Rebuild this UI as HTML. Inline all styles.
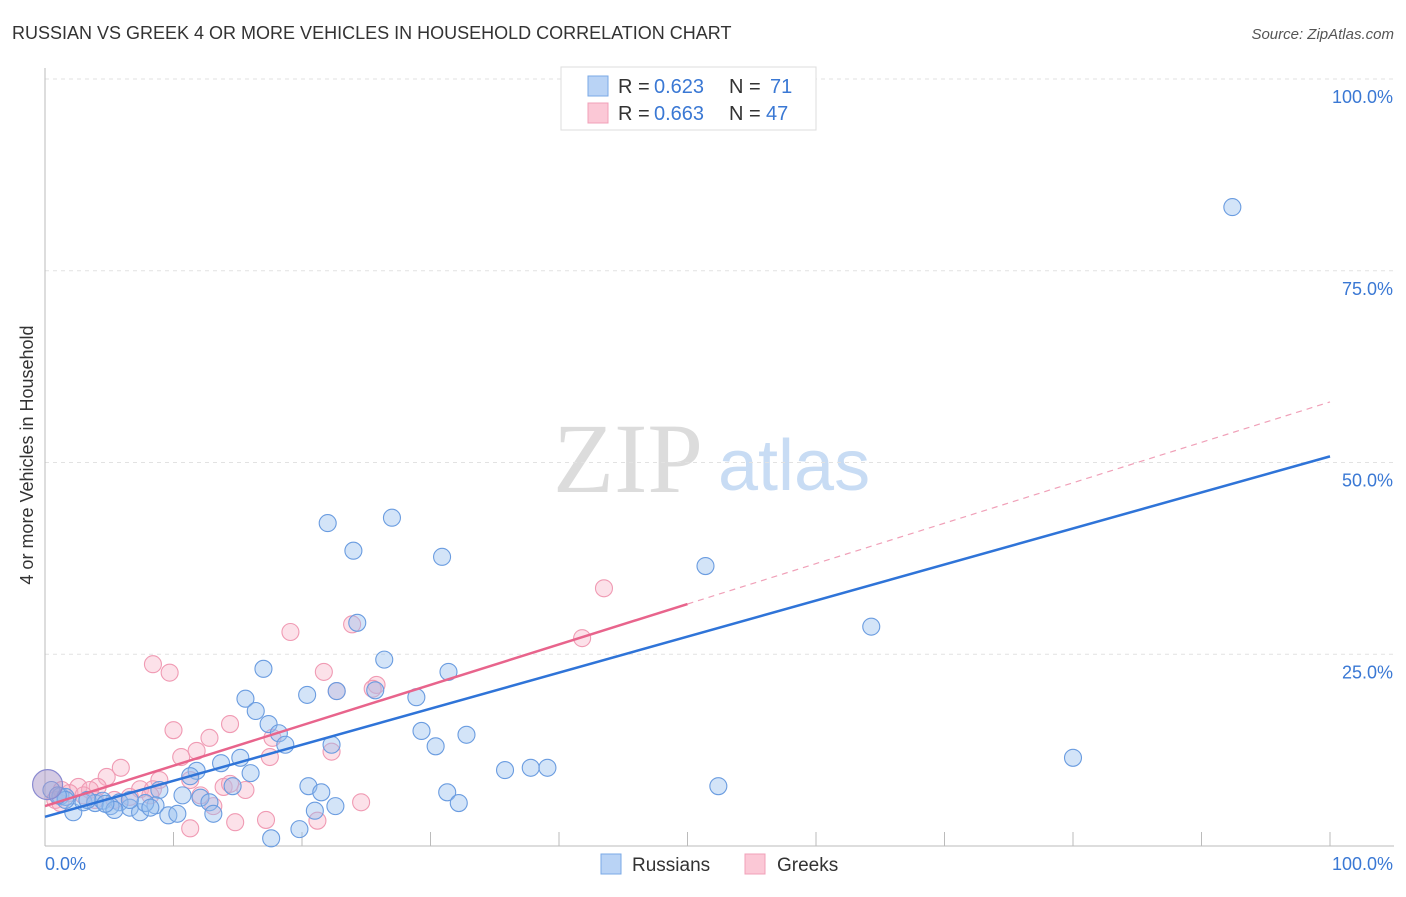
<!DOCTYPE html>
<html><head><meta charset="utf-8"><style>
body{margin:0;background:#fff;font-family:"Liberation Sans",sans-serif;}
</style></head><body>
<svg id="chart" width="1406" height="892" style="font-family:'Liberation Sans',sans-serif">
<text x="12" y="39" font-size="18" fill="#333">RUSSIAN VS GREEK 4 OR MORE VEHICLES IN HOUSEHOLD CORRELATION CHART</text>
<text x="1394" y="39" font-size="15" fill="#555" text-anchor="end" font-style="italic">Source: ZipAtlas.com</text>
<text x="33" y="455" font-size="18" fill="#333" text-anchor="middle" transform="rotate(-90 33 455)">4 or more Vehicles in Household</text>
<text x="553" y="492" font-size="100" fill="#dcdcdc" style="font-family:'Liberation Serif',serif">ZIP</text>
<text x="718" y="490" font-size="72" fill="#c8dcf4">atlas</text>
<g id="grid"></g><g id="pts"></g><g id="lines"></g>
<g>
<rect x="561" y="67" width="255" height="63" fill="#fff" stroke="#ddd"/>
<rect x="588" y="76" width="20" height="20" fill="#b9d3f5" stroke="#7aa8e6"/>
<rect x="588" y="103" width="20" height="20" fill="#fbc8d6" stroke="#f0a0b8"/>
<text x="618" y="93" font-size="20" fill="#333">R =</text>
<text x="654" y="93" font-size="20" fill="#3a78d4">0.623</text>
<text x="729" y="93" font-size="20" fill="#333">N =</text>
<text x="770" y="93" font-size="20" fill="#3a78d4">71</text>
<text x="618" y="120" font-size="20" fill="#333">R =</text>
<text x="654" y="120" font-size="20" fill="#3a78d4">0.663</text>
<text x="729" y="120" font-size="20" fill="#333">N =</text>
<text x="766" y="120" font-size="20" fill="#3a78d4">47</text>
</g>
<g>
<rect x="601" y="854" width="20" height="20" fill="#b9d3f5" stroke="#7aa8e6"/>
<text x="632" y="871" font-size="19" fill="#333">Russians</text>
<rect x="745" y="854" width="20" height="20" fill="#fbc8d6" stroke="#f0a0b8"/>
<text x="777" y="871" font-size="19" fill="#333">Greeks</text>
</g>
</svg>
<script>
const russiansX=[22.0,27.0,24.0,30.9,51.4,92.4,64.3,24.3,26.4,17.0,31.4,15.6,20.4,22.7,25.7,28.9,16.4,17.4,18.2,18.7,29.3,32.8,30.4,22.3,80.0,35.8,37.8,39.1,16.0,15.2,13.7,11.8,11.3,14.6,20.5,21.5,31.3,32.2,52.4,10.7,12.1,12.8,8.9,8.6,5.8,6.6,7.4,7.8,9.6,13.1,22.6,21.0,19.8,17.6,2.2,3.0,3.9,4.5,5.1,1.2,0.5,1.6,10.3,5.4,1.6,1.0,3.3,4.7,6.6,8.2];
const russiansY=[42.1,42.8,38.5,37.7,36.5,83.3,28.6,29.1,24.3,23.1,22.7,19.2,19.7,20.2,20.3,19.4,17.6,15.9,14.7,13.2,15.0,14.5,13.0,13.2,11.5,9.9,10.2,10.2,9.5,11.5,10.8,9.8,9.1,7.8,7.8,7.0,7.0,5.6,7.8,6.6,6.3,5.7,7.3,5.3,5.7,5.0,4.4,5.6,4.0,4.2,5.2,4.6,2.2,1.0,4.4,5.7,5.6,5.9,5.2,6.5,7.3,6.4,4.2,4.7,6.0,6.6,6.0,5.5,6.0,5.0];
const greeksX=[43.5,41.8,19.1,23.9,21.7,8.4,9.7,25.8,25.5,22.7,14.4,10.0,12.8,11.8,10.6,17.7,22.3,17.5,5.9,4.8,8.9,4.1,2.6,3.5,7.4,8.4,13.9,15.6,13.1,24.6,14.8,17.2,21.2,11.3,0.8,1.9,3.0,5.4,6.6,1.3,3.9,8.2,14.4,12.1,1.2,11.3];
const greeksY=[33.6,27.1,27.9,28.9,22.7,23.7,22.6,21.0,20.5,20.2,15.9,15.1,14.1,12.4,11.6,14.1,12.3,11.6,10.2,9.0,8.6,7.7,7.7,7.3,7.4,7.4,7.7,7.3,5.2,5.7,3.1,3.4,3.3,2.3,6.0,6.9,6.6,6.0,6.4,7.3,6.0,6.6,8.1,6.6,5.6,8.6];
const bigPoint=[0.2,8.0];
const russiansTrend=[3.8,50.8];
const greeksTrend=[5.2,57.9];
const yTicks=[25,50,75,100];
const yTickLabels=["25.0%","50.0%","75.0%","100.0%"];
const xTicks=[10,20,30,40,50,60,70,80,90,100];

const NS="http://www.w3.org/2000/svg";
const X=v=>45+v*12.85, Y=v=>846-v*7.67;
function mk(tag,attrs,parent){const e=document.createElementNS(NS,tag);for(const k in attrs)e.setAttribute(k,attrs[k]);parent.appendChild(e);return e;}
const grid=document.getElementById('grid');
yTicks.forEach((t,i)=>{
  const l=mk('line',{x1:45,x2:1394,y1:Y(t),y2:Y(t),stroke:'#e2e2e2','stroke-dasharray':'4,4'},grid);
  
  
  const tx=mk('text',{x:1393,y:Y(t)+24,'font-size':18,fill:'#3a78d4','text-anchor':'end'},grid);
  tx.textContent=yTickLabels[i];
  
  
});
const ax=mk('line',{x1:45,x2:45,y1:68,y2:846,stroke:'#bbb'},grid);


const axx=mk('line',{x1:45,x2:1394,y1:846,y2:846,stroke:'#bbb'},grid);


xTicks.forEach(t=>{
  const l=mk('line',{x1:X(t),x2:X(t),y1:832,y2:846,stroke:'#bbb'},grid);
  
  
});
const xl=mk('text',{x:45,y:870,'font-size':18,fill:'#3a78d4'},grid);xl.textContent="0.0%";


const xr=mk('text',{x:1393,y:870,'font-size':18,fill:'#3a78d4','text-anchor':'end'},grid);xr.textContent="100.0%";



const pts=document.getElementById('pts');
greeksX.forEach((x,i)=>{
  const c=mk('circle',{cx:X(x),cy:Y(greeksY[i]),r:8.5,fill:'rgba(248,175,198,0.38)',stroke:'#f09ab3','stroke-width':1.1},pts);
  
  
});
russiansX.forEach((x,i)=>{
  const c=mk('circle',{cx:X(x),cy:Y(russiansY[i]),r:8.5,fill:'rgba(150,190,238,0.42)',stroke:'#6a9ce0','stroke-width':1.1},pts);
  
  
});
const big=mk('circle',{cx:X(bigPoint[0]),cy:Y(bigPoint[1]),r:15,fill:'rgba(170,150,200,0.5)',stroke:'#8a8ad0','stroke-width':1.2},pts);



const lines=document.getElementById('lines');
const gy=x=>greeksTrend[0]+(greeksTrend[1]-greeksTrend[0])*x/100;
const ry=x=>russiansTrend[0]+(russiansTrend[1]-russiansTrend[0])*x/100;
const l1=mk('line',{x1:X(0),y1:Y(ry(0)),x2:X(100),y2:Y(ry(100)),stroke:'#2f74d8','stroke-width':2.5},lines);


const l2=mk('line',{x1:X(0),y1:Y(gy(0)),x2:X(50),y2:Y(gy(50)),stroke:'#e8648c','stroke-width':2.5},lines);


const l3=mk('line',{x1:X(50),y1:Y(gy(50)),x2:X(100),y2:Y(gy(100)),stroke:'#f0a0b8','stroke-width':1.2,'stroke-dasharray':'6,5'},lines);


</script>
</body></html>
